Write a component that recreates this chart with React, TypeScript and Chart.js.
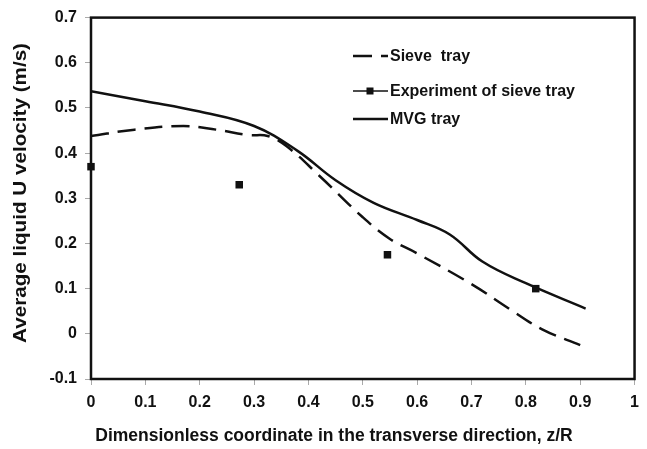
import React, { useEffect, useRef } from "react";
import { Chart, registerables } from "chart.js";

Chart.register(...registerables);

// Simulated liquid velocity profiles across the tray (z/R vs. U, m/s)
const sieveZ = [0, 0.08, 0.17, 0.23, 0.29, 0.325, 0.36, 0.42, 0.5, 0.55, 0.6, 0.7, 0.77, 0.83, 0.9];
const sieveU = [0.438, 0.452, 0.46, 0.452, 0.44, 0.438, 0.415, 0.35, 0.258, 0.21, 0.178, 0.11, 0.055, 0.01, -0.025];

const mvgZ = [0, 0.1, 0.2, 0.3, 0.38, 0.45, 0.52, 0.6, 0.66, 0.72, 0.8, 0.91];
const mvgU = [0.537, 0.515, 0.492, 0.46, 0.405, 0.34, 0.29, 0.252, 0.22, 0.16, 0.112, 0.056];

// Measured values on the sieve tray
const expZ = [0, 0.2727, 0.5454, 0.8182];
const expU = [0.37, 0.33, 0.175, 0.1];

const legendLabels = ["Sieve  tray", "Experiment of sieve tray", "MVG tray"];
const xTitle = "Dimensionless coordinate in the transverse direction, z/R";
const yTitle = "Average liquid U velocity (m/s)";

const FONT = "'Liberation Sans', Arial, sans-serif";
const INK = "#111";

const toPoints = (xs: number[], ys: number[]) => xs.map((x, i) => ({ x, y: ys[i] }));

const framePlugin = {
  id: "frame",
  beforeDatasetsDraw(chart: any) {
    const { ctx, chartArea: a } = chart;
    ctx.save();
    ctx.strokeStyle = INK;
    ctx.lineWidth = 2.5;
    ctx.strokeRect(a.left, a.top, a.right - a.left, a.bottom - a.top);
    ctx.restore();
  },
};

const decorPlugin = {
  id: "decor",
  afterDraw(chart: any) {
    const { ctx } = chart;
    ctx.save();
    ctx.fillStyle = INK;
    ctx.textBaseline = "middle";

    // axis titles
    ctx.font = `bold 17.5px ${FONT}`;
    ctx.textAlign = "center";
    ctx.fillText(xTitle, 334, 436);

    ctx.save();
    ctx.translate(21, 193);
    ctx.rotate(-Math.PI / 2);
    ctx.font = `bold 18px ${FONT}`;
    const w = ctx.measureText(yTitle).width;
    ctx.scale(300 / w, 1);
    ctx.fillText(yTitle, 0, 0);
    ctx.restore();

    // legend
    const x0 = 353;
    const x1 = 388;
    const rows = [56, 91, 119];
    ctx.strokeStyle = INK;
    ctx.lineCap = "butt";

    ctx.lineWidth = 2.5;
    ctx.beginPath();
    ctx.moveTo(x0, rows[0]);
    ctx.lineTo(x0 + 19, rows[0]);
    ctx.moveTo(x0 + 28, rows[0]);
    ctx.lineTo(x1, rows[0]);
    ctx.stroke();

    ctx.lineWidth = 1.3;
    ctx.beginPath();
    ctx.moveTo(x0, rows[1]);
    ctx.lineTo(x1, rows[1]);
    ctx.stroke();
    ctx.fillRect(366.5, rows[1] - 3.5, 7, 7);

    ctx.lineWidth = 2.5;
    ctx.beginPath();
    ctx.moveTo(x0, rows[2]);
    ctx.lineTo(x1, rows[2]);
    ctx.stroke();

    ctx.font = `bold 16px ${FONT}`;
    ctx.textAlign = "left";
    legendLabels.forEach((t, i) => ctx.fillText(t, 390, rows[i] + 1));
    ctx.restore();
  },
};

const tickFont = { family: FONT, size: 16, weight: "bold" };
const fmt = (v: any) => String(Number(Number(v).toFixed(1)));

export default function App() {
  const ref = useRef<HTMLCanvasElement>(null);

  useEffect(() => {
    if (!ref.current) return;
    const chart = new Chart(ref.current, {
      type: "scatter",
      data: {
        datasets: [
          {
            label: legendLabels[0],
            data: toPoints(sieveZ, sieveU),
            showLine: true,
            borderColor: INK,
            borderWidth: 2.5,
            borderDash: [18, 9],
            pointRadius: 0,
            tension: 0.4,
          },
          {
            label: legendLabels[1],
            data: toPoints(expZ, expU),
            showLine: false,
            pointStyle: "rect",
            pointRadius: 5.3,
            backgroundColor: INK,
            borderColor: INK,
            borderWidth: 0,
            clip: false,
          },
          {
            label: legendLabels[2],
            data: toPoints(mvgZ, mvgU),
            showLine: true,
            borderColor: INK,
            borderWidth: 2.5,
            pointRadius: 0,
            tension: 0.4,
          },
        ],
      },
      options: {
        animation: false,
        responsive: false,
        devicePixelRatio: 1,
        layout: { padding: { top: 16, right: 3, left: 0, bottom: 0 } },
        plugins: { legend: { display: false }, tooltip: { enabled: false } },
        scales: {
          x: {
            type: "linear",
            min: 0,
            max: 1,
            ticks: { stepSize: 0.1, padding: 8, color: INK, font: tickFont, callback: fmt },
            grid: { drawOnChartArea: false, drawTicks: true, tickLength: 6, color: "#aaa" },
            border: { display: false },
            afterFit: (s: any) => {
              s.height = 70;
            },
          },
          y: {
            type: "linear",
            min: -0.1,
            max: 0.7,
            ticks: { stepSize: 0.1, padding: 8, color: INK, font: tickFont, callback: fmt },
            grid: { drawOnChartArea: false, drawTicks: true, tickLength: 6, color: "#aaa" },
            border: { display: false },
            afterFit: (s: any) => {
              s.width = 91;
            },
          },
        },
      },
      plugins: [framePlugin, decorPlugin],
    } as any);
    return () => chart.destroy();
  }, []);

  return (
    <div style={{ position: "absolute", left: 0, top: 0, width: 647, height: 449, background: "#fff" }}>
      <canvas ref={ref} width={647} height={449} style={{ display: "block" }} />
    </div>
  );
}
